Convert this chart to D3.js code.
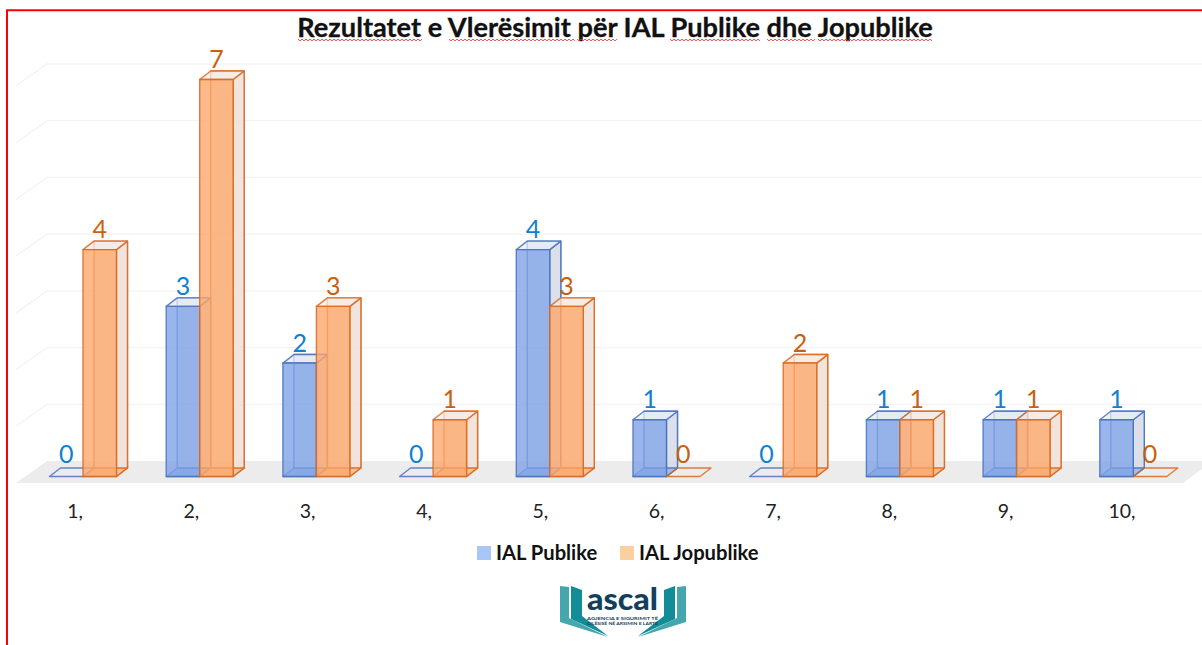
<!DOCTYPE html>
<html><head><meta charset="utf-8">
<script src="https://cdn.jsdelivr.net/npm/d3@7"></script>
<style>html,body{margin:0;padding:0;background:#fff}svg{display:block}text{font-family:Lato,"Noto Sans",sans-serif}</style>
</head><body><svg id="c" width="1202" height="645"></svg>
<script>
const categories=["1,","2,","3,","4,","5,","6,","7,","8,","9,","10,"];
const seriesNames=["IAL Publike","IAL Jopublike"];
const publike=[0,3,2,0,4,1,0,1,1,1];
const jopublike=[4,7,3,1,3,0,2,1,1,0];
const gridTicks=[1,2,3,4,5,6,7];
const titleText="Rezultatet e Vlerësimit për IAL Publike dhe Jopublike";

const svg=d3.select("#c");
const depthX=11,depthY=8.5,barW=33.5;
const x=d3.scaleBand().domain(categories).range([24.65,1191.65]).padding(0);
const xLabel=d3.scalePoint().domain(categories).range([75,1122]);
const y=d3.scaleLinear().domain([0,7]).range([476.5,79.5]);
const series=d3.scaleBand().domain(seriesNames).range([0,67]);
const colors={[seriesNames[0]]:{stroke:"#4a72bd",fill:"#7fa3e6",side:"#d5dbe8",top:"#e4e9f3",label:"#1180cf",key:"#a9c6f7"},
 [seriesNames[1]]:{stroke:"#d9691f",fill:"#fca76c",side:"#eee0d8",top:"#f5eae3",label:"#c9600f",key:"#fccf9f"}};

// frame
svg.append("path").attr("d","M7,645V10.3H1202").attr("fill","none").attr("stroke","#ff0000").attr("stroke-width",2);

// title
svg.append("text").attr("x",615).attr("y",36.5).attr("text-anchor","middle").attr("font-size",27.2).attr("font-weight",700)
 .attr("fill","#111").attr("stroke","#111").attr("stroke-width",.3).text(titleText);
// spell-check squiggles
const sq=(a,b)=>{let s=`M${a},39.2`;for(let i=a+2,k=0;i<=b;i+=2,k++)s+=`L${i},${k%2?39.2:40.8}`;return s;};
[[298,422],[449,575],[577,618],[670,760],[767,815],[818,932]].forEach(d=>svg.append("path").attr("d",sq(d[0],d[1])).attr("fill","none").attr("stroke","#e04040").attr("stroke-width",.9));

// walls: grid and floor
const wallX0=16,wallBack=47,wallDY=22;
svg.append("g").selectAll("path").data(gridTicks).join("path")
 .attr("d",v=>{const g=y(v)-15.5;return `M${wallX0},${g+wallDY}L${wallBack},${g}H1202`;})
 .attr("fill","none").attr("stroke","#f3f3f3").attr("stroke-width",1.3);
svg.append("path").attr("d",`M${wallX0},483L${wallBack},461H1202V469L1183,483Z`).attr("fill","#ececec");

// bars
const bars=[];
categories.forEach((c,i)=>{bars.push({c,s:seriesNames[0],v:publike[i]});bars.push({c,s:seriesNames[1],v:jopublike[i]});});
const barX=d=>x(d.c)+(x.bandwidth()-67)/2+series(d.s);
const g=svg.append("g");
g.selectAll("g").data(bars).join("g").each(function(d){
 const el=d3.select(this),k=colors[d.s];
 const x0=barX(d),x1=x0+barW,y0=y(0),yt=y(d.v);
 const dx=depthX,dy=depthY;
 const P=(pts,fill,op)=>el.append("path").attr("d","M"+pts.map(p=>p.join(",")).join("L")+"Z")
   .attr("fill",fill).attr("fill-opacity",op).attr("stroke",k.stroke).attr("stroke-width",1.4).attr("stroke-opacity",.85).attr("stroke-linejoin","round");
 if(d.v>0){
  P([[x0+dx,y0-dy],[x1+dx,y0-dy],[x1+dx,yt-dy],[x0+dx,yt-dy]],k.side,.5); // back
  P([[x1,y0],[x1+dx,y0-dy],[x1+dx,yt-dy],[x1,yt]],k.side,.75); // side
 }
 P([[x0,y0],[x1,y0],[x1+dx,y0-dy],[x0+dx,y0-dy]],d.v>0?k.fill:"#fff",d.v>0?.6:0); // bottom
 if(d.v>0){
  P([[x0,yt],[x1,yt],[x1+dx,yt-dy],[x0+dx,yt-dy]],k.top,.75); // top
  P([[x0,y0],[x1,y0],[x1,yt],[x0,yt]],k.fill,.8); // front
 }
});
// value labels
g.selectAll("text").data(bars).join("text")
 .attr("x",d=>barX(d)+barW/2)
 .attr("y",d=>y(d.v)-depthY-(d.v>0?3:5))
 .attr("text-anchor","middle").attr("font-size",25).attr("fill",d=>colors[d.s].label).text(d=>d.v);

// x labels
svg.append("g").selectAll("text").data(categories).join("text")
 .attr("x",d=>xLabel(d)).attr("y",518).attr("text-anchor","middle").attr("font-size",19.5).attr("fill","#222").text(d=>d);

// legend
const legX=[477,620];
const leg=svg.append("g").selectAll("g").data(seriesNames).join("g").attr("transform",(d,i)=>`translate(${legX[i]},546)`);
leg.append("rect").attr("width",14).attr("height",14).attr("fill",d=>colors[d].key);
leg.append("text").attr("x",19).attr("y",13.5).attr("font-size",20.2).attr("font-weight",700).attr("fill","#111").text(d=>d);

// logo
const logo=svg.append("g");
const light="M560,586L569,587V618L608,637L560,622Z",dark="M571,586L582,590V616L608,636L571,619Z";
[1,-1].forEach(s=>{
 const t=logo.append("g").attr("transform",s>0?null:"translate(1246,0) scale(-1,1)");
 t.append("path").attr("d",light).attr("fill","#45a7ae");
 t.append("path").attr("d",dark).attr("fill","#128c96");
});
logo.append("text").attr("x",587).attr("y",610).attr("textLength",71).attr("lengthAdjust","spacingAndGlyphs").attr("font-size",30).attr("font-weight",900).attr("fill","#133f5c").text("ascal");
logo.append("text").attr("x",587).attr("y",620.3).attr("textLength",71).attr("lengthAdjust","spacingAndGlyphs").attr("font-size",3.8).attr("font-weight",700).attr("fill","#133f5c").text("AGJENCIA E SIGURIMIT TË");
logo.append("text").attr("x",587).attr("y",625).attr("textLength",71).attr("lengthAdjust","spacingAndGlyphs").attr("font-size",3.8).attr("font-weight",700).attr("fill","#133f5c").text("CILËSISË NË ARSIMIN E LARTË");
</script></body></html>
